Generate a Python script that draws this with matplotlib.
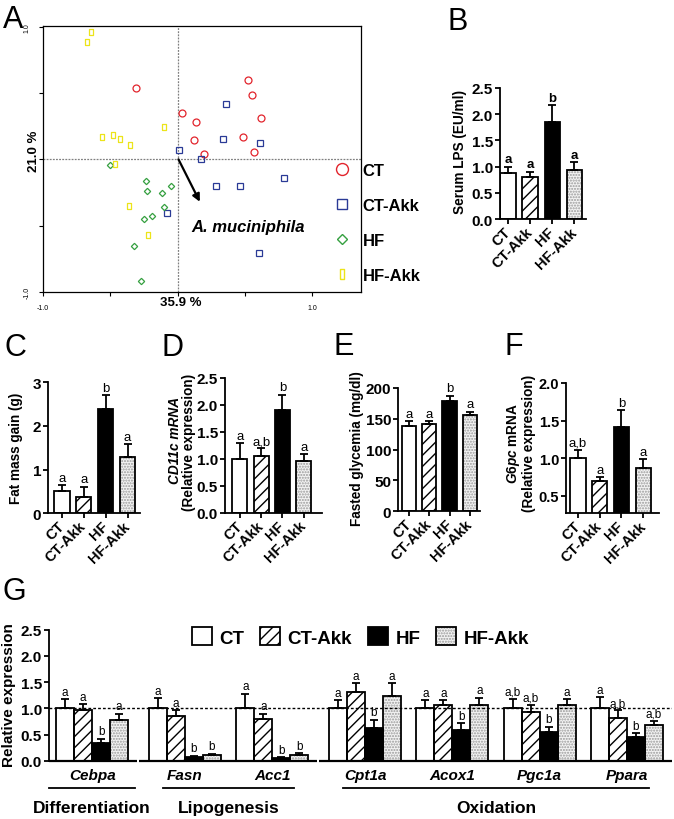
import numpy as np
import matplotlib
matplotlib.use('Agg')
import matplotlib.pyplot as plt
from matplotlib.patches import Patch
from matplotlib.lines import Line2D
from matplotlib.transforms import blended_transform_factory

plt.rcParams['font.family'] = ['Liberation Sans', 'DejaVu Sans']
plt.rcParams['mathtext.fontset'] = 'custom'
plt.rcParams['mathtext.it'] = 'Liberation Sans:italic:bold'
plt.rcParams['mathtext.rm'] = 'Liberation Sans:bold'
plt.rcParams['mathtext.bf'] = 'Liberation Sans:bold'
plt.rcParams['hatch.linewidth'] = 1.0

# ---------------- data ----------------
groups = ['CT', 'CT-Akk', 'HF', 'HF-Akk']

# Panel A : PCA scores
pca_ct_x = [-0.307, 0.523, 0.550, 0.035, 0.136, 0.620, 0.126, 0.488, 0.200, 0.572]
pca_ct_y = [0.541, 0.599, 0.485, 0.349, 0.282, 0.312, 0.146, 0.168, 0.038, 0.053]
pca_ctakk_x = [0.357, 0.337, 0.610, 0.012, 0.176, 0.283, 0.466, 0.788, -0.077, 0.605]
pca_ctakk_y = [0.415, 0.151, 0.126, 0.070, 0.005, -0.201, -0.201, -0.143, -0.408, -0.709]
pca_hf_x = [-0.503, -0.238, -0.230, -0.114, -0.050, -0.102, -0.250, -0.191, -0.320, -0.273]
pca_hf_y = [-0.043, -0.166, -0.242, -0.252, -0.204, -0.357, -0.450, -0.430, -0.657, -0.918]
pca_hfakk_x = [-0.642, -0.674, -0.104, -0.565, -0.476, -0.426, -0.352, -0.468, -0.364, -0.218]
pca_hfakk_y = [0.961, 0.883, 0.242, 0.171, 0.181, 0.153, 0.106, -0.035, -0.355, -0.571]
loading_start = (0.007, 0.0)
loading_end = (0.166, -0.32)
loading_name = 'A. muciniphila'
pca_xlabel = '35.9 %'
pca_ylabel = '21.0 %'

# Panel B : serum LPS
lps_mean = [0.88, 0.80, 1.85, 0.93]
lps_sem = [0.12, 0.10, 0.32, 0.15]
lps_letters = ['a', 'a', 'b', 'a']

# Panel C : fat mass gain
fat_mean = [0.50, 0.38, 2.40, 1.28]
fat_sem = [0.15, 0.23, 0.31, 0.30]
fat_letters = ['a', 'a', 'b', 'a']

# Panel D : CD11c mRNA
cd11c_mean = [1.00, 1.05, 1.91, 0.96]
cd11c_sem = [0.29, 0.14, 0.28, 0.12]
cd11c_letters = ['a', 'a,b', 'b', 'a']

# Panel E : fasted glycemia
gly_mean = [138.6, 141.3, 178.8, 156.5]
gly_sem = [7.0, 4.5, 9.0, 5.0]
gly_letters = ['a', 'a', 'b', 'a']

# Panel F : G6pc mRNA
g6pc_mean = [1.00, 0.70, 1.41, 0.87]
g6pc_sem = [0.11, 0.05, 0.23, 0.12]
g6pc_letters = ['a,b', 'a', 'b', 'a']

# Panel G : gene expression
genes = ['Cebpa', 'Fasn', 'Acc1', 'Cpt1a', 'Acox1', 'Pgc1a', 'Ppara']
gene_segment = [0, 1, 1, 2, 2, 2, 2]
categories = ['Differentiation', 'Lipogenesis', 'Oxidation']
category_genes = [(0, 0), (1, 2), (3, 6)]
g_ct_mean = [1.0, 1.0, 1.0, 1.0, 1.0, 1.0, 1.0]
g_ct_sem = [0.17, 0.19, 0.28, 0.16, 0.15, 0.18, 0.21]
g_ctakk_mean = [0.97, 0.85, 0.79, 1.32, 1.06, 0.92, 0.82]
g_ctakk_sem = [0.11, 0.11, 0.11, 0.16, 0.10, 0.14, 0.14]
g_hf_mean = [0.34, 0.08, 0.06, 0.62, 0.58, 0.55, 0.46]
g_hf_sem = [0.08, 0.015, 0.01, 0.16, 0.14, 0.10, 0.06]
g_hfakk_mean = [0.78, 0.11, 0.11, 1.24, 1.06, 1.06, 0.69]
g_hfakk_sem = [0.12, 0.02, 0.03, 0.24, 0.14, 0.11, 0.07]
g_ct_letters = ['a', 'a', 'a', 'a', 'a', 'a,b', 'a']
g_ctakk_letters = ['a', 'a', 'a', 'a', 'a', 'a,b', 'a,b']
g_hf_letters = ['b', 'b', 'b', 'b', 'b', 'b', 'b']
g_hfakk_letters = ['a', 'b', 'b', 'a', 'a', 'a', 'a,b']

# ---------------- styles ----------------
bar_face = ['white', 'white', 'black', '#f3f3f3']
bar_hatch = [None, '///', None, '......']
bar_hatch_color = ['black', 'black', 'black', '#9a9a9a']
LW = 1.3

W, H = 674, 820
fig = plt.figure(figsize=(W / 100, H / 100), dpi=100)
fig.patch.set_facecolor('white')


def ax_px(l, t, r, b):
    return fig.add_axes([l / W, 1 - b / H, (r - l) / W, (b - t) / H])


def fig_txt(x, y, s, **kw):
    return fig.text(x / W, 1 - y / H, s, **kw)


def draw_series(ax, xs, means, sems, letters, k, width, lsize=9, lweight='normal'):
    xs = np.asarray(xs, float)
    means = np.asarray(means, float)
    sems = np.asarray(sems, float)
    ax.bar(xs, means, width=width, color=bar_face[k], edgecolor=bar_hatch_color[k],
           hatch=bar_hatch[k], linewidth=0, zorder=2)
    ax.bar(xs, means, width=width, fill=False, edgecolor='black', linewidth=LW, zorder=3)
    ax.errorbar(xs, means, yerr=[np.zeros_like(sems), sems], fmt='none', ecolor='black',
                elinewidth=LW, capsize=3.2, capthick=LW, zorder=4)
    for x, m, s, t in zip(xs, means, sems, letters):
        ax.annotate(t, (x, m + s), xytext=(0, 1), textcoords='offset points', ha='center',
                    va='bottom', fontsize=lsize, fontweight=lweight, zorder=5,
                    annotation_clip=False)


def small_panel(box, means, sems, letters, ylim, yticks, yticklabels, xlim, lweight='normal',
                ysize=11):
    ax = ax_px(*box)
    xs = np.arange(len(groups))
    for k in range(len(groups)):
        draw_series(ax, [xs[k]], [means[k]], [sems[k]], [letters[k]], k, 0.7, 9.5, lweight)
    ax.set_xlim(*xlim)
    ax.set_ylim(*ylim)
    ax.set_yticks(yticks)
    ax.set_yticklabels(yticklabels, fontweight='bold', fontsize=ysize)
    ax.set_xticks(xs)
    ax.set_xticklabels(groups, rotation=45, ha='right', va='center', rotation_mode='anchor',
                       fontweight='bold', fontsize=10.5)
    for s in ['top', 'right']:
        ax.spines[s].set_visible(False)
    for s in ['left', 'bottom']:
        ax.spines[s].set_linewidth(LW)
    ax.tick_params(direction='out', length=3.5, width=LW, pad=1.5)
    ax.tick_params(axis='x', pad=4)
    ax.patch.set_alpha(0)
    return ax


# ---------------- Panel A ----------------
axA = ax_px(43, 27, 361, 293)
axA.set_xlim(-1.0, 1.364)
axA.set_ylim(-1.0, 1.005)
axA.axvline(0, color='#808080', ls=(0, (1.5, 1.0)), lw=0.9, zorder=1)
axA.axhline(0, color='#808080', ls=(0, (1.5, 1.0)), lw=0.9, zorder=1)
rect_marker = [(-0.5, -1), (0.5, -1), (0.5, 1), (-0.5, 1), (-0.5, -1)]
c_red, c_blue, c_green, c_yel = '#e2242c', '#2a3a96', '#35a040', '#ece41a'
axA.plot(pca_ct_x, pca_ct_y, 'o', ms=5.0, mfc='none', mec=c_red, mew=0.9, zorder=3)
axA.plot(pca_ctakk_x, pca_ctakk_y, 's', ms=4.6, mfc='none', mec=c_blue, mew=0.9, zorder=3)
axA.plot(pca_hf_x, pca_hf_y, 'D', ms=3.2, mfc='none', mec=c_green, mew=0.9, zorder=3)
axA.plot(pca_hfakk_x, pca_hfakk_y, marker=rect_marker, ls='none', ms=4.6, mfc='none',
         mec=c_yel, mew=0.9, zorder=3)
axA.annotate('', xy=loading_end, xytext=loading_start,
             arrowprops=dict(arrowstyle='-|>', lw=1.6, color='black', mutation_scale=11,
                             shrinkA=0, shrinkB=0), zorder=4)
axA.text(loading_end[0] - 0.06, loading_end[1] - 0.19, loading_name, fontsize=12,
         fontweight='bold', fontstyle='italic', ha='left', va='center')
axA.set_xticks([-1, -0.5, 0, 0.5, 1])
axA.set_xticklabels(['-1.0', '', '', '', '1.0'], fontsize=5)
axA.set_yticks([-1, -0.5, 0, 0.5, 1])
axA.set_yticklabels(['-1.0', '', '', '', '1.0'], fontsize=5, rotation=90, va='center')
axA.tick_params(direction='out', length=3, width=0.8, pad=6)
for s in axA.spines.values():
    s.set_linewidth(0.9)
fig_txt(181, 303.5, pca_xlabel, fontsize=9.5, fontweight='bold', ha='center', va='center')
fig_txt(34, 151, pca_ylabel, fontsize=9.5, fontweight='bold', ha='center', va='center',
        rotation=90)
legA = [Line2D([], [], ls='none', marker='o', ms=8.6, mfc='none', mec=c_red, mew=1.0),
        Line2D([], [], ls='none', marker='s', ms=7.8, mfc='none', mec=c_blue, mew=1.0),
        Line2D([], [], ls='none', marker='D', ms=5.2, mfc='none', mec=c_green, mew=1.0),
        Line2D([], [], ls='none', marker=rect_marker, ms=7.0, mfc='none', mec=c_yel, mew=1.0)]
axA.legend(legA, groups, loc='upper left', bbox_to_anchor=(0.914, 0.484), frameon=False,
           borderpad=0, borderaxespad=0, handlelength=1.0, handletextpad=0.75,
           labelspacing=1.2, prop=dict(weight='bold', size=12))

# ---------------- Panel B ----------------
axB = small_panel((500, 89, 586, 220), lps_mean, lps_sem, lps_letters, (0, 2.5),
                  [0, 0.5, 1, 1.5, 2, 2.5], ['0.0', '0.5', '1.0', '1.5', '2.0', '2.5'],
                  (-0.36, 3.52), lweight='bold')
fig_txt(460, 152, 'Serum LPS (EU/ml)', fontsize=9.8, fontweight='bold', rotation=90,
        ha='center', va='center')

# ---------------- Panel C ----------------
axC = small_panel((48, 383.3, 140, 514.3), fat_mean, fat_sem, fat_letters, (0, 3),
                  [0, 1, 2, 3], ['0', '1', '2', '3'], (-0.64, 3.57))
fig_txt(16, 448, 'Fat mass gain (g)', fontsize=9.8, fontweight='bold', rotation=90,
        ha='center', va='center')

# ---------------- Panel D ----------------
axD = small_panel((225, 379, 322, 513.5), cd11c_mean, cd11c_sem, cd11c_letters, (0, 2.5),
                  [0, 0.5, 1, 1.5, 2, 2.5], ['0.0', '0.5', '1.0', '1.5', '2.0', '2.5'],
                  (-0.7, 3.86))
fig_txt(175, 440, 'CD11c mRNA', fontsize=9.8, fontweight='bold', fontstyle='italic',
        rotation=90, ha='center', va='center')
fig_txt(189.5, 442, '(Relative expression)', fontsize=9.8, fontweight='bold', rotation=90,
        ha='center', va='center')

# ---------------- Panel E ----------------
axE = small_panel((398, 389, 480, 512), gly_mean, gly_sem, gly_letters, (0, 200),
                  [0, 50, 100, 150, 200], ['0', '50', '100', '150', '200'], (-0.54, 3.5))
fig_txt(357.5, 449, 'Fasted glycemia (mg/dl)', fontsize=9.8, fontweight='bold', rotation=90,
        ha='center', va='center')

# ---------------- Panel F ----------------
axF = small_panel((566, 384, 659, 514), g6pc_mean, g6pc_sem, g6pc_letters, (0.27, 2.0),
                  [0.5, 1.0, 1.5, 2.0], ['0.5', '1.0', '1.5', '2.0'], (-0.55, 3.73),
                  ysize=10.5)
fig_txt(513, 443, r'$\mathit{G6pc}$ mRNA', fontsize=9.8, fontweight='bold', rotation=90,
        ha='center', va='center')
fig_txt(529, 443, '(Relative expression)', fontsize=9.8, fontweight='bold', rotation=90,
        ha='center', va='center')

# ---------------- Panel G ----------------
axG = ax_px(49, 630.7, 672, 761.7)
centers = 2.4 + 4.85 * np.arange(len(genes)) + 0.3 * np.array(gene_segment)
g_means = [g_ct_mean, g_ctakk_mean, g_hf_mean, g_hfakk_mean]
g_sems = [g_ct_sem, g_ctakk_sem, g_hf_sem, g_hfakk_sem]
g_letters = [g_ct_letters, g_ctakk_letters, g_hf_letters, g_hfakk_letters]
for k in range(len(groups)):
    draw_series(axG, centers + (k - 1.5) * 1.0, g_means[k], g_sems[k], g_letters[k], k, 1.0,
                lsize=8.5)
axG.set_xlim(0, 34.6)
axG.set_ylim(0, 2.5)
axG.axhline(1.0, color='black', ls=(0, (2, 1.5)), lw=1.0, zorder=6)
axG.set_yticks([0, 0.5, 1, 1.5, 2, 2.5])
axG.set_yticklabels(['0.0', '0.5', '1.0', '1.5', '2.0', '2.5'], fontweight='bold',
                    fontsize=11)
axG.set_xticks(centers)
axG.set_xticklabels(genes, fontweight='bold', fontstyle='italic', fontsize=11)
axG.tick_params(axis='y', direction='out', length=3.5, width=LW, pad=1.5)
axG.tick_params(axis='x', length=0, pad=5)
for s in ['top', 'right', 'bottom']:
    axG.spines[s].set_visible(False)
axG.spines['left'].set_linewidth(LW)
axG.patch.set_alpha(0)
trG = blended_transform_factory(axG.transData, axG.transAxes)
xmax = axG.get_xlim()[1]
for seg in sorted(set(gene_segment)):
    idx = [i for i, s in enumerate(gene_segment) if s == seg]
    x0 = max(0.0, centers[idx[0]] - 2.55)
    x1 = min(xmax, centers[idx[-1]] + 2.5)
    axG.plot([x0, x1], [0, 0], color='black', lw=LW + 0.3, transform=trG, clip_on=False,
             solid_capstyle='butt', zorder=7)
for name, (i0, i1) in zip(categories, category_genes):
    pad = 2.4 if i0 == i1 else 1.2
    x0, x1 = centers[i0] - pad, centers[i1] + pad
    axG.plot([x0, x1], [-0.205, -0.205], color='black', lw=1.3, transform=trG, clip_on=False)
    axG.text((x0 + x1) / 2, -0.36, name, transform=trG, ha='center', va='center',
             fontsize=12.5, fontweight='bold')
fig_txt(9.5, 695, 'Relative expression', fontsize=11, fontweight='bold', rotation=90,
        ha='center', va='center')
legG = [Patch(facecolor='white', edgecolor='black', lw=LW),
        Patch(facecolor='white', edgecolor='black', hatch='///', lw=LW),
        Patch(facecolor='black', edgecolor='black', lw=LW),
        (Patch(facecolor='#f3f3f3', edgecolor='#9a9a9a', hatch='......', lw=0),
         Patch(fill=False, edgecolor='black', lw=LW))]
axG.legend(legG, groups, ncol=4, loc='center', bbox_to_anchor=(0.5, 0.944), frameon=False,
           borderpad=0, handlelength=1.05, handleheight=1.05, handletextpad=0.4,
           columnspacing=0.85, prop=dict(weight='bold', size=13.5))

# ---------------- panel letters ----------------
for lab, x, y in [('A', 3, 5), ('B', 448, 7), ('C', 5, 333), ('D', 162, 333),
                  ('E', 333, 332), ('F', 505, 332), ('G', 3, 577)]:
    fig_txt(x, y, lab, fontsize=22, ha='left', va='top')

fig.savefig('out.png', dpi=100, facecolor='white')
